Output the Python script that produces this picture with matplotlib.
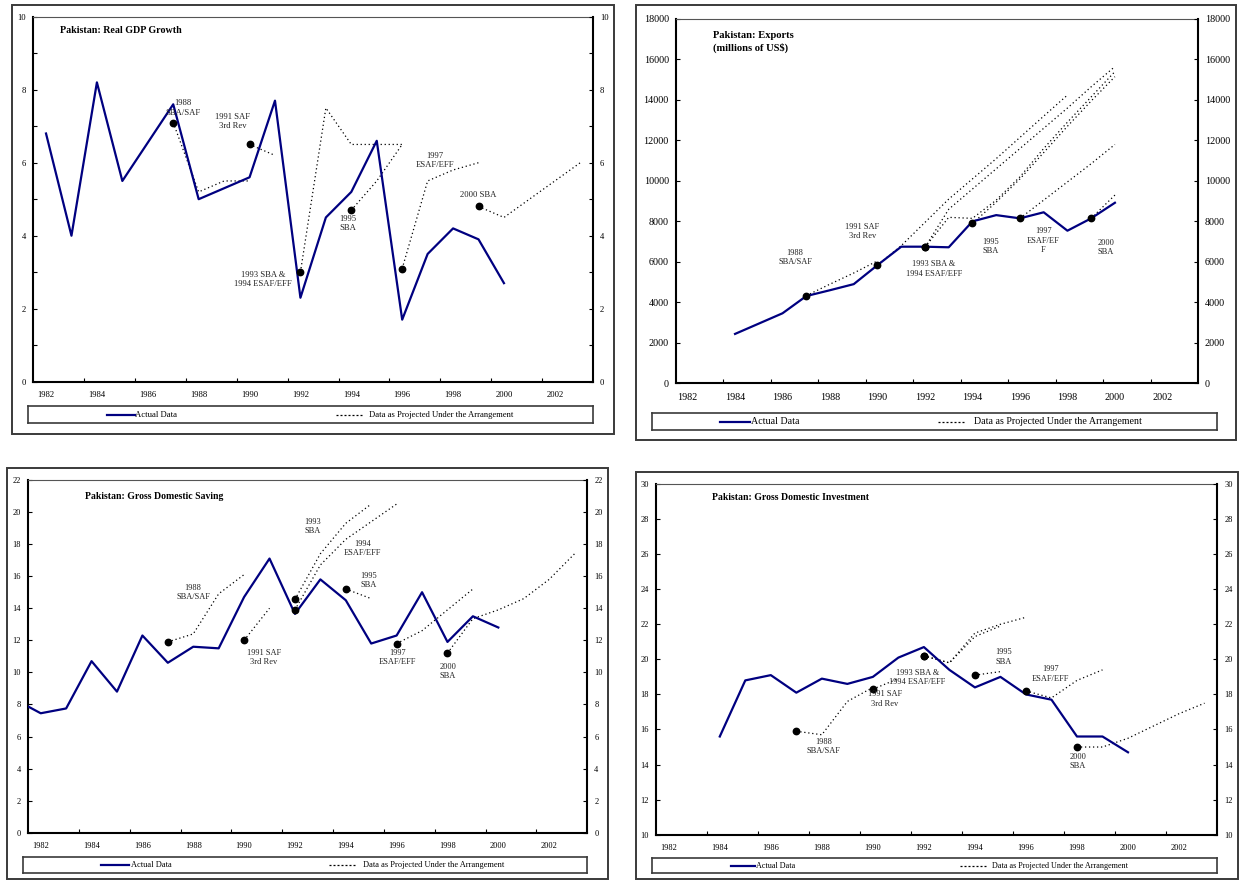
import matplotlib
matplotlib.use('Agg')
import matplotlib.pyplot as plt
from matplotlib.patches import Rectangle
import numpy as np

plt.rcParams['font.family'] = ['Liberation Serif', 'DejaVu Serif']

NAVY = '#000080'
W, H = 1243, 880

# Real GDP growth
gdp_years = list(range(1982, 2001))
gdp_actual = [6.8, 4.0, 8.2, 5.5, 6.55, 7.6, 5.0, 5.3, 5.6, 7.7, 2.3, 4.5, 5.2, 6.6, 1.7, 3.5, 4.2, 3.9, 2.7]
gdp_p1988 = (1987, [7.1, 5.2, 5.5, 5.5])
gdp_p1991 = (1990, [6.5, 6.2])
gdp_p1993 = (1992, [3.0, 7.5, 6.5, 6.5, 6.5])
gdp_p1995 = (1994, [4.7, 5.5, 6.5])
gdp_p1997 = (1996, [3.1, 5.5, 5.8, 6.0])
gdp_p2000 = (1999, [4.8, 4.5, 5.0, 5.5, 6.0])

# Exports (millions of US$)
exp_years = list(range(1984, 2001))
exp_actual = [2440, 2950, 3460, 4310, 4600, 4900, 5840, 6750, 6750, 6720, 8000, 8310, 8150, 8450, 7540, 8150, 8920]
exp_p1988 = (1987, [4330, 4900, 5450, 6050])
exp_p1991 = (1990, [5840, 6800, 7950, 9100, 10100, 11100, 12150, 13200, 14240])
exp_p1993 = (1992, [6720, 8600, 9600, 10600, 11600, 12600, 13600, 14650, 15650])
exp_p1994 = (1992, [6720, 8200, 8150, 9050, 10200, 11600, 12900, 14150, 15400])
exp_p1995 = (1994, [7900, 8950, 10100, 11400, 12700, 13950, 15150])
exp_p1997 = (1996, [8150, 9050, 9950, 10850, 11800])
exp_p2000 = (1999, [8150, 9300])

# Gross domestic saving
sav_years = list(range(1981, 2001))
sav_actual = [8.3, 7.45, 7.75, 10.7, 8.8, 12.3, 10.6, 11.6, 11.5, 14.7, 17.1, 13.65, 15.8, 14.5, 11.8, 12.3, 15.0, 11.9, 13.5, 12.8]
sav_p1988 = (1987, [11.9, 12.4, 14.9, 16.1])
sav_p1991 = (1990, [12.0, 14.0])
sav_p1993 = (1992, [14.55, 17.4, 19.3, 20.5])
sav_p1994 = (1992, [13.9, 16.7, 18.3, 19.4, 20.5])
sav_p1995 = (1994, [15.2, 14.6])
sav_p1997 = (1996, [11.8, 12.6, 13.9, 15.2])
sav_p2000 = (1998, [11.2, 13.35, 13.9, 14.6, 15.8, 17.4])

# Gross domestic investment
inv_years = list(range(1984, 2001))
inv_actual = [15.6, 18.8, 19.1, 18.1, 18.9, 18.6, 19.0, 20.1, 20.7, 19.4, 18.4, 19.0, 18.0, 17.7, 15.6, 15.6, 14.7]
inv_p1988 = (1987, [15.9, 15.7, 17.6, 18.4])
inv_p1991 = (1990, [18.3, 18.9])
inv_p1993 = (1992, [20.2, 19.8, 21.3, 21.9])
inv_p1994 = (1992, [20.2, 19.8, 21.5, 22.0, 22.4])
inv_p1995 = (1994, [19.1, 19.3])
inv_p1997 = (1996, [18.2, 17.8, 18.8, 19.4])
inv_p2000 = (1998, [15.0, 15.0, 15.5, 16.2, 16.9, 17.5])

year_labels = list(range(1982, 2003, 2))


def px_box(x0, y0, x1, y1):
    return [x0 / W, 1 - y1 / H, (x1 - x0) / W, (y1 - y0) / H]


def draw_panel(fig, frame, area, leg_box, leg_pos, years, actual, projections,
               ylim, yticks, yminor, title, title_pos, notes,
               fs_tick=6.2, fs_note=6.2, fs_title=7.2, fs_leg=6.2):
    # outer frame of the panel
    fig.add_artist(Rectangle((frame[0] / W, 1 - frame[3] / H),
                             (frame[2] - frame[0]) / W, (frame[3] - frame[1]) / H,
                             transform=fig.transFigure, fill=False,
                             ec='#3a3a3a', lw=1.4))

    ax = fig.add_axes(px_box(*area))
    ax.plot(years, actual, color=NAVY, lw=1.6, zorder=3)
    for start, vals in projections:
        xs = np.arange(start, start + len(vals))
        ax.plot(xs, vals, color='black', lw=0.9, ls=(0, (1, 2.2)), zorder=2)
        ax.plot(xs[0], vals[0], 'o', color='black', ms=4.6, zorder=4)

    ax.set_xlim(1981.5, 2003.5)
    ax.set_ylim(*ylim)
    ax.set_xticks(year_labels)
    ax.set_xticklabels([str(y) for y in year_labels])
    ax.set_xticks(np.arange(1983.5, 2003, 2), minor=True)
    ax.tick_params(axis='x', which='major', length=0, pad=7, labelsize=fs_tick)
    ax.tick_params(axis='x', which='minor', direction='in', length=3, width=0.8)
    ax.set_yticks(yticks)
    if yminor is not None:
        ax.set_yticks(yminor, minor=True)
    ax.tick_params(axis='y', which='both', direction='in', length=3, width=0.8,
                   pad=5, labelsize=fs_tick)
    for s in ('left', 'bottom'):
        ax.spines[s].set_linewidth(1.5)
    ax.spines['top'].set_linewidth(0.8)
    ax.spines['top'].set_color('#555555')
    ax.spines['right'].set_visible(False)

    rax = ax.twinx()
    rax.set_ylim(*ylim)
    rax.set_yticks(yticks)
    if yminor is not None:
        rax.set_yticks(yminor, minor=True)
    rax.tick_params(axis='y', which='both', direction='in', length=3, width=0.8,
                    pad=5, labelsize=fs_tick)
    for s in ('left', 'top', 'bottom'):
        rax.spines[s].set_visible(False)
    rax.spines['right'].set_linewidth(1.5)

    ax.text(title_pos[0], title_pos[1], title, fontsize=fs_title,
            fontweight='bold', ha='left', va='center', linespacing=1.3)
    for txt, x, y in notes:
        ax.text(x, y, txt, fontsize=fs_note, ha='center', va='center',
                color='#222222', linespacing=1.25, zorder=5)

    # legend box under the plot
    lax = fig.add_axes(px_box(*leg_box))
    lax.set_xlim(0, 1)
    lax.set_ylim(0, 1)
    lax.set_xticks([])
    lax.set_yticks([])
    for s in lax.spines.values():
        s.set_linewidth(1.2)
        s.set_color('#3a3a3a')
    a0, a1, at, d0, d1, dt = leg_pos
    lax.plot([a0, a1], [0.5, 0.5], color=NAVY, lw=1.6)
    lax.text(at, 0.5, 'Actual Data', fontsize=fs_leg, va='center', ha='left')
    lax.plot([d0, d1], [0.5, 0.5], color='black', lw=0.9, ls=(0, (1.6, 1.6)))
    lax.text(dt, 0.5, 'Data as Projected Under the Arrangement', fontsize=fs_leg,
             va='center', ha='left')
    return ax


fig = plt.figure(figsize=(W / 100, H / 100), dpi=100)

draw_panel(fig, (12, 5, 614, 434), (33.3, 16.7, 593, 381.7), (28, 406, 593, 423),
           (0.14, 0.19, 0.19, 0.545, 0.592, 0.603),
           gdp_years, gdp_actual,
           [gdp_p1988, gdp_p1991, gdp_p1993, gdp_p1995, gdp_p1997, gdp_p2000],
           (0, 10), list(range(0, 11, 2)), list(range(1, 10, 2)),
           'Pakistan: Real GDP Growth', (1982.55, 9.63),
           [('1988\nSBA/SAF', 1987.4, 7.5),
            ('1991 SAF\n3rd Rev', 1989.35, 7.13),
            ('1993 SBA &\n1994 ESAF/EFF', 1990.53, 2.8),
            ('1995\nSBA', 1993.87, 4.33),
            ('1997\nESAF/EFF', 1997.3, 6.06),
            ('2000 SBA', 1998.97, 5.11)])

draw_panel(fig, (636, 5, 1236, 440), (675.7, 19, 1198, 383.3), (652, 413, 1217, 430),
           (0.12, 0.173, 0.176, 0.507, 0.554, 0.570),
           exp_years, exp_actual,
           [exp_p1988, exp_p1991, exp_p1993, exp_p1994, exp_p1995, exp_p1997, exp_p2000],
           (0, 18000), list(range(0, 18001, 2000)), None,
           'Pakistan: Exports\n(millions of US$)', (1983.08, 16850),
           [('1988\nSBA/SAF', 1986.53, 6215),
            ('1991 SAF\n3rd Rev', 1989.36, 7500),
            ('1993 SBA &\n1994 ESAF/EFF', 1992.37, 5637),
            ('1995\nSBA', 1994.78, 6760),
            ('1997\nESAF/EF\nF', 1996.98, 7055),
            ('2000\nSBA', 1999.63, 6710)],
           fs_tick=7.3, fs_note=6.0, fs_title=7.6, fs_leg=7.2)

draw_panel(fig, (7, 468, 608, 879), (28, 480, 587.3, 832.7), (22.7, 857, 587.3, 873.3),
           (0.139, 0.188, 0.191, 0.543, 0.59, 0.602),
           sav_years, sav_actual,
           [sav_p1988, sav_p1991, sav_p1993, sav_p1994, sav_p1995, sav_p1997, sav_p2000],
           (0, 22), list(range(0, 23, 2)), None,
           'Pakistan: Gross Domestic Saving', (1983.74, 20.96),
           [('1988\nSBA/SAF', 1987.99, 14.98),
            ('1991 SAF\n3rd Rev', 1990.78, 10.93),
            ('1993\nSBA', 1992.7, 19.1),
            ('1994\nESAF/EFF', 1994.67, 17.74),
            ('1995\nSBA', 1994.89, 15.73),
            ('1997\nESAF/EFF', 1996.02, 10.93),
            ('2000\nSBA', 1998.02, 10.07)],
           fs_tick=6.0, fs_note=6.0, fs_title=7.0, fs_leg=6.0)

draw_panel(fig, (636, 472, 1238, 879), (656, 484, 1217.3, 834.7), (652, 858.3, 1217.3, 873.3),
           (0.14, 0.182, 0.184, 0.544, 0.591, 0.601),
           inv_years, inv_actual,
           [inv_p1988, inv_p1991, inv_p1993, inv_p1994, inv_p1995, inv_p1997, inv_p2000],
           (10, 30), list(range(10, 31, 2)), None,
           'Pakistan: Gross Domestic Investment', (1983.68, 29.22),
           [('1988\nSBA/SAF', 1988.06, 15.02),
            ('1991 SAF\n3rd Rev', 1990.48, 17.73),
            ('1993 SBA &\n1994 ESAF/EFF', 1991.75, 18.97),
            ('1995\nSBA', 1995.11, 20.14),
            ('1997\nESAF/EFF', 1996.97, 19.17),
            ('2000\nSBA', 1998.03, 14.18)],
           fs_tick=6.0, fs_note=6.0, fs_title=7.0, fs_leg=5.9)

fig.savefig('out.png', dpi=100, facecolor='white')
plt.close(fig)
